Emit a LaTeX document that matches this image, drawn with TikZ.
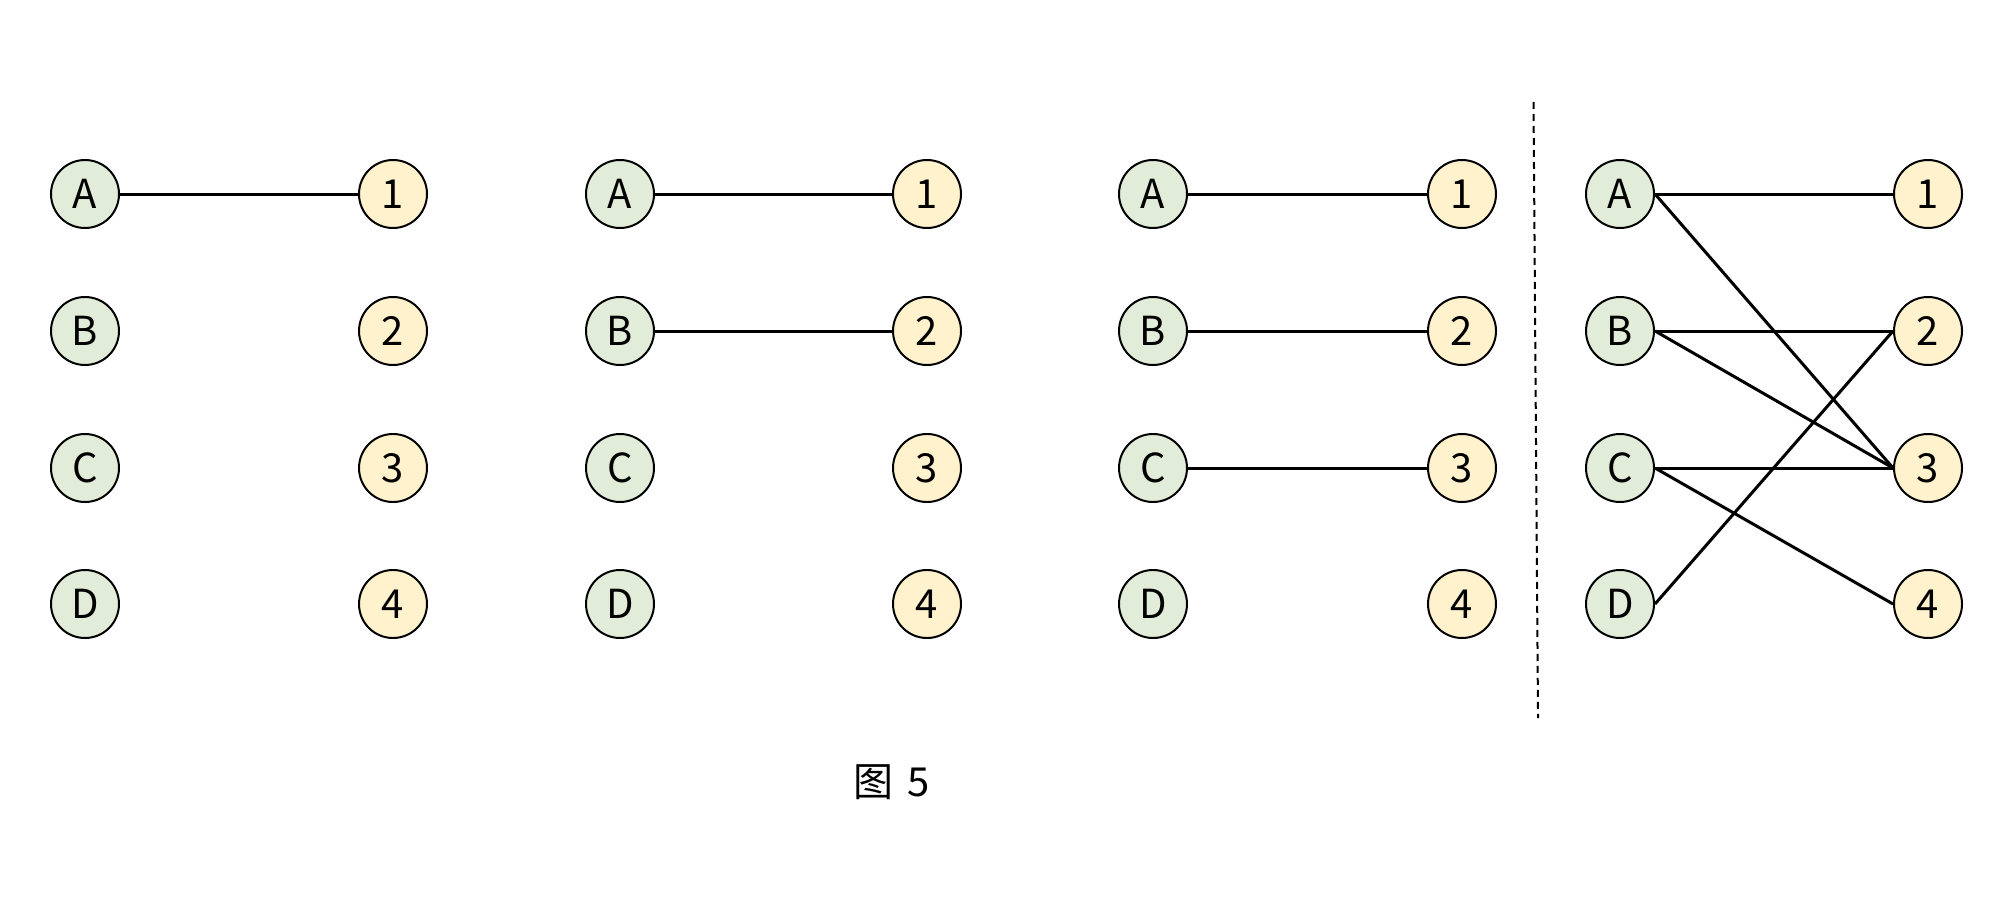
\documentclass[tikz,border=0pt]{standalone}
\usepackage{fontspec}
\setmainfont{Noto Sans CJK SC}
\definecolor{gfill}{HTML}{E2EDD9}
\definecolor{yfill}{HTML}{FFF2CC}
\tikzset{
  vl/.style={circle,draw=black,line width=1pt,fill=gfill,minimum size=34pt,inner sep=0pt,font=\fontsize{20}{20}\selectfont},
  vr/.style={vl,fill=yfill},
  edge/.style={line width=1.5pt},
}
\begin{document}
\begin{tikzpicture}[x=0.5pt,y=-0.5pt]
\useasboundingbox (0,0) rectangle (2016,920);
\foreach \p/\xl/\xr in {a/85/393,b/620/927,c/1153/1462,d/1620/1928}{
  \node[vl] (\p A) at (\xl,194) {A};
  \node[vl] (\p B) at (\xl,331) {B};
  \node[vl] (\p C) at (\xl,468) {C};
  \node[vl] (\p D) at (\xl,604) {D};
  \node[vr] (\p 1) at (\xr,194) {1};
  \node[vr] (\p 2) at (\xr,331) {2};
  \node[vr] (\p 3) at (\xr,468) {3};
  \node[vr] (\p 4) at (\xr,604) {4};
}
\draw[edge] (aA) -- (a1);
\draw[edge] (bA) -- (b1);
\draw[edge] (bB) -- (b2);
\draw[edge] (cA) -- (c1);
\draw[edge] (cB) -- (c2);
\draw[edge] (cC) -- (c3);
\draw[edge] (dA.east) -- (d1.west);
\draw[edge] (dA.east) -- (d3.west);
\draw[edge] (dB.east) -- (d2.west);
\draw[edge] (dB.east) -- (d3.west);
\draw[edge] (dC.east) -- (d3.west);
\draw[edge] (dC.east) -- (d4.west);
\draw[edge] (dD.east) -- (d2.west);
\coordinate (sep1) at (1533.5,102);
\coordinate (sep2) at (1538,718);
\draw[line width=1pt,dash pattern=on 3.5pt off 2.5pt] (sep1) -- (sep2);
\node[font=\fontsize{20}{20}\selectfont] (cap) at (892,782) {图\hspace{0.35em}5};
\end{tikzpicture}
\end{document}
